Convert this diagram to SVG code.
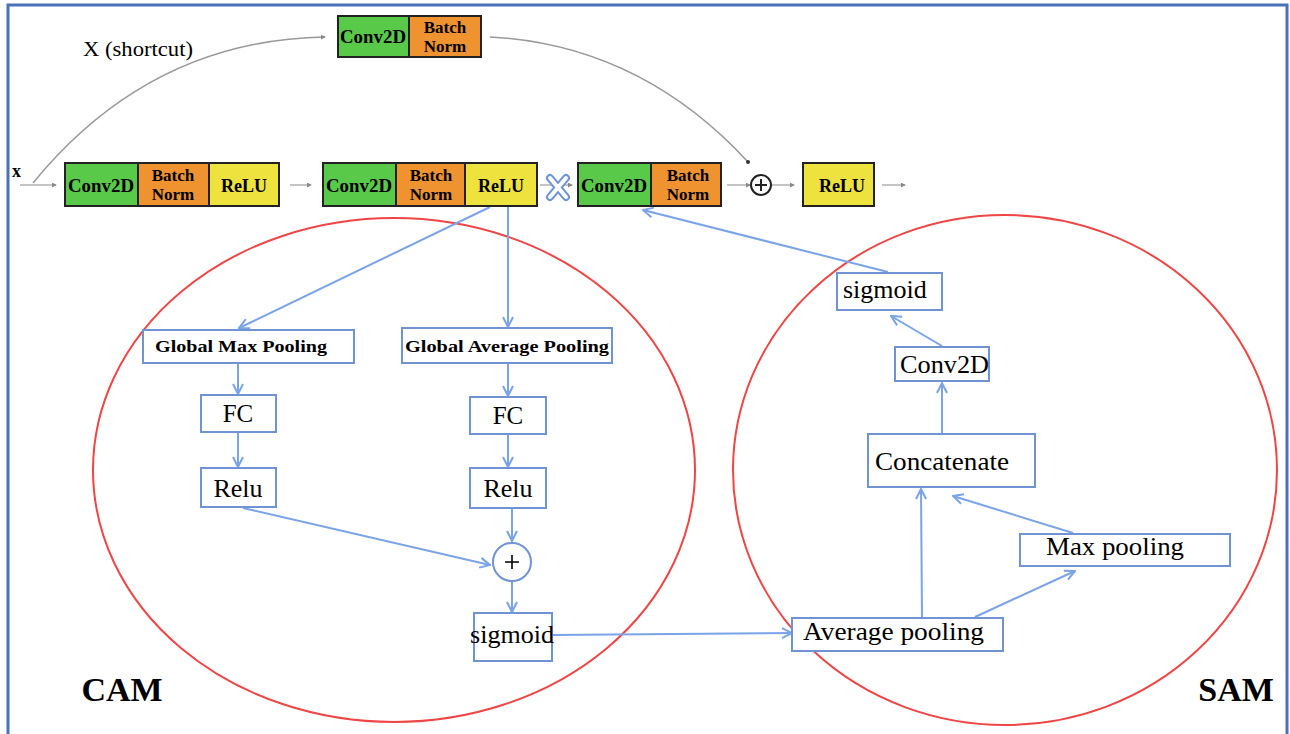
<svg xmlns="http://www.w3.org/2000/svg" width="1290" height="734" viewBox="0 0 1290 734">
<defs>
<style>
.blk{stroke:#222;stroke-width:2}
.g{fill:#59c94a}.o{fill:#ef9330}.y{fill:#eee23e}
.bt{font-family:"Liberation Serif",serif;font-weight:bold;fill:#000;text-anchor:middle}
.box{fill:#fff;stroke:#6f93d3;stroke-width:2}
.lt{font-family:"Liberation Serif",serif;fill:#000;text-anchor:middle}
.ls{font-family:"Liberation Serif",serif;fill:#000}
.ba{stroke:#7aa3e8;stroke-width:2;fill:none;marker-end:url(#ah)}
.ga{stroke:#b0b0b0;stroke-width:1.5;fill:none;marker-end:url(#gh)}
.ell{fill:none;stroke:#f04545;stroke-width:2}
</style>
<marker id="ah" viewBox="0 0 12 12" refX="11" refY="6" markerWidth="12" markerHeight="12" markerUnits="userSpaceOnUse" orient="auto">
<path d="M1,1 L11,6 L1,11" fill="none" stroke="#7aa3e8" stroke-width="2"/>
</marker>
<marker id="gh" viewBox="0 0 6 6" refX="5" refY="3" markerWidth="5" markerHeight="5" markerUnits="userSpaceOnUse" orient="auto">
<path d="M0,0 L6,3 L0,6 Z" fill="#888"/>
</marker>
</defs>
<rect x="0" y="0" width="1290" height="734" fill="#fff"/>
<rect x="8" y="5" width="1279" height="760" fill="none" stroke="#4a72b8" stroke-width="3"/>

<g id="ellipses">
<ellipse cx="394" cy="470" rx="301" ry="252" class="ell"/>
<ellipse cx="1005" cy="470" rx="272" ry="255" class="ell"/>
</g>

<g id="connectors">
<path d="M33,183 Q150,40 325,37" fill="none" stroke="#999" stroke-width="1.5" marker-end="url(#gh)"/>
<path d="M490,37 Q640,45 748,162" fill="none" stroke="#999" stroke-width="1.5"/>
<circle cx="748" cy="162" r="2" fill="#333"/>
<line x1="20" y1="185" x2="56" y2="185" class="ga"/>
<line x1="290" y1="185" x2="311" y2="185" class="ga"/>
<line x1="540" y1="185" x2="572" y2="185" class="ga"/>
<line x1="727" y1="185" x2="750" y2="185" class="ga"/>
<line x1="772" y1="185" x2="794" y2="185" class="ga"/>
<line x1="882" y1="185" x2="905" y2="185" class="ga"/>
<line x1="490" y1="207" x2="239" y2="328" class="ba"/>
<line x1="508" y1="207" x2="508" y2="327" class="ba"/>
<line x1="238" y1="363" x2="238" y2="394" class="ba"/>
<line x1="238" y1="432" x2="238" y2="467" class="ba"/>
<line x1="508" y1="363" x2="508" y2="396" class="ba"/>
<line x1="508" y1="434" x2="508" y2="467" class="ba"/>
<line x1="243" y1="508" x2="490" y2="565" class="ba"/>
<line x1="512" y1="508" x2="512" y2="541" class="ba"/>
<line x1="512" y1="582" x2="512" y2="612" class="ba"/>
<line x1="552" y1="635" x2="792" y2="633" class="ba"/>
<line x1="922" y1="617" x2="921" y2="489" class="ba"/>
<line x1="975" y1="617" x2="1075" y2="571" class="ba"/>
<line x1="1073" y1="533" x2="953" y2="496" class="ba"/>
<line x1="942" y1="434" x2="942" y2="383" class="ba"/>
<line x1="942" y1="346" x2="891" y2="316" class="ba"/>
<line x1="888" y1="272" x2="643" y2="210" class="ba"/>
</g>

<g id="shortcut_block">
<rect x="338" y="16" width="71" height="41" class="blk g"/>
<rect x="409" y="16" width="72" height="41" class="blk o"/>
<text x="373" y="43" class="bt" font-size="18" textLength="66" lengthAdjust="spacingAndGlyphs">Conv2D</text>
<text x="445" y="33" class="bt" font-size="17">Batch</text>
<text x="445" y="52" class="bt" font-size="17">Norm</text>
</g>
<text x="83" y="56" class="ls" font-size="20" textLength="110" lengthAdjust="spacingAndGlyphs">X (shortcut)</text>
<text x="12" y="177" class="ls" font-weight="bold" font-size="18">x</text>

<g id="block1">
<rect x="65" y="163" width="73" height="43" class="blk g"/>
<rect x="138" y="163" width="71" height="43" class="blk o"/>
<rect x="209" y="163" width="70" height="43" class="blk y"/>
<text x="101" y="192" class="bt" font-size="18" textLength="66" lengthAdjust="spacingAndGlyphs">Conv2D</text>
<text x="173" y="181" class="bt" font-size="17">Batch</text>
<text x="173" y="200" class="bt" font-size="17">Norm</text>
<text x="244" y="192" class="bt" font-size="18">ReLU</text>
</g>
<g id="block2">
<rect x="323" y="163" width="73" height="43" class="blk g"/>
<rect x="396" y="163" width="69" height="43" class="blk o"/>
<rect x="465" y="163" width="72" height="43" class="blk y"/>
<text x="359" y="192" class="bt" font-size="18" textLength="66" lengthAdjust="spacingAndGlyphs">Conv2D</text>
<text x="431" y="181" class="bt" font-size="17">Batch</text>
<text x="431" y="200" class="bt" font-size="17">Norm</text>
<text x="501" y="192" class="bt" font-size="18">ReLU</text>
</g>
<g id="multiply">
<path d="M550,178 L566,197 M566,178 L550,197" stroke="#6d95d6" stroke-width="8" stroke-linecap="round" fill="none"/>
<path d="M550,178 L566,197 M566,178 L550,197" stroke="#fff" stroke-width="4" stroke-linecap="round" fill="none"/>
</g>
<g id="block3">
<rect x="578" y="163" width="73" height="43" class="blk g"/>
<rect x="651" y="163" width="70" height="43" class="blk o"/>
<text x="614" y="192" class="bt" font-size="18" textLength="66" lengthAdjust="spacingAndGlyphs">Conv2D</text>
<text x="688" y="181" class="bt" font-size="17">Batch</text>
<text x="688" y="200" class="bt" font-size="17">Norm</text>
</g>
<g id="add_top">
<circle cx="761" cy="185" r="10" fill="#fff" stroke="#222" stroke-width="2"/>
<path d="M755,185 H767 M761,179 V191" stroke="#222" stroke-width="2"/>
</g>
<g id="relu_out">
<rect x="803" y="163" width="71" height="43" class="blk y"/>
<text x="842" y="192" class="bt" font-size="18">ReLU</text>
</g>

<g id="gmp"><rect x="143" y="330" width="211" height="33" class="box"/><text x="155" y="352" class="ls" font-size="17" font-weight="bold" textLength="172" lengthAdjust="spacingAndGlyphs">Global Max Pooling</text></g>
<g id="gap"><rect x="402" y="328" width="210" height="35" class="box"/><text x="405" y="352" class="ls" font-size="17" font-weight="bold" textLength="204" lengthAdjust="spacingAndGlyphs">Global Average Pooling</text></g>
<g id="fc1"><rect x="201" y="395" width="75" height="37" class="box"/><text x="238" y="422" class="lt" font-size="25">FC</text></g>
<g id="fc2"><rect x="470" y="397" width="76" height="37" class="box"/><text x="508" y="424" class="lt" font-size="25">FC</text></g>
<g id="relu1"><rect x="201" y="468" width="75" height="39" class="box"/><text x="238" y="497" class="lt" font-size="26">Relu</text></g>
<g id="relu2"><rect x="470" y="468" width="76" height="40" class="box"/><text x="508" y="497" class="lt" font-size="26">Relu</text></g>
<g id="add_cam"><circle cx="512" cy="562" r="19" fill="#fff" stroke="#6f93d3" stroke-width="2"/><path d="M505,562 H519 M512,555 V569" stroke="#000" stroke-width="1.6"/></g>
<g id="sig_cam"><rect x="474" y="613" width="78" height="48" class="box"/><text x="512" y="643" class="lt" font-size="26">sigmoid</text></g>

<g id="sig_sam"><rect x="837" y="273" width="105" height="37" class="box"/><text x="843" y="298" class="ls" font-size="26">sigmoid</text></g>
<g id="conv_sam"><rect x="895" y="347" width="94" height="34" class="box"/><text x="900" y="373" class="ls" font-size="26" textLength="89" lengthAdjust="spacingAndGlyphs">Conv2D</text></g>
<g id="concat"><rect x="868" y="434" width="167" height="53" class="box"/><text x="875" y="470" class="ls" font-size="26" textLength="134" lengthAdjust="spacingAndGlyphs">Concatenate</text></g>
<g id="maxpool"><rect x="1020" y="534" width="210" height="32" class="box"/><text x="1046" y="555" class="ls" font-size="26" textLength="138" lengthAdjust="spacingAndGlyphs">Max pooling</text></g>
<g id="avgpool"><rect x="792" y="618" width="211" height="33" class="box"/><text x="803" y="640" class="ls" font-size="26" textLength="181" lengthAdjust="spacingAndGlyphs">Average pooling</text></g>

<text x="122" y="701" class="lt" font-size="34" font-weight="bold">CAM</text>
<text x="1236" y="701" class="lt" font-size="34" font-weight="bold">SAM</text>
</svg>
